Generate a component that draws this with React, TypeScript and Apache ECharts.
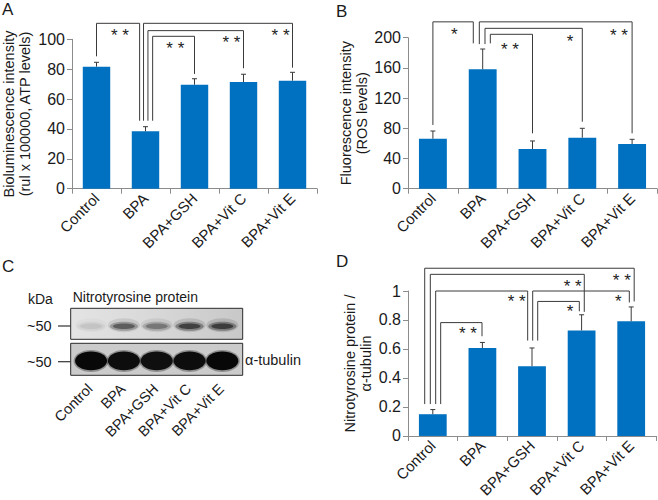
import React, { useEffect, useRef } from 'react';
import * as echarts from 'echarts';

const FONT = "'Liberation Sans', Arial, Helvetica, sans-serif";

const categories = ['Control', 'BPA', 'BPA+GSH', 'BPA+Vit C', 'BPA+Vit E'];

// Panel A: ATP levels
const atpMean = [81.7, 38.4, 69.6, 71.4, 72.3];
const atpErr = [2.9, 3.1, 4.0, 5.2, 5.6];
// Panel B: ROS levels
const rosMean = [66.2, 158.1, 52.6, 67.5, 59.2];
const rosErr = [10.2, 26.9, 10.6, 12.5, 6.2];
// Panel D: Nitrotyrosine / tubulin
const nitroMean = [0.15, 0.607, 0.481, 0.728, 0.791];
const nitroErr = [0.032, 0.038, 0.126, 0.108, 0.099];

// Panel C: band intensities (relative)
const nitroBand = [0.12, 0.7, 0.5, 0.9, 0.93];
const tubulinBand = [1, 0.97, 0.95, 0.97, 1];

// significance brackets: [from category pos, to category pos, top, from end, to end]
const atpBrackets = [
  [0, 0.88, 110.7, 88.6, 45.5],
  [0.96, 4, 110.7, 45.5, 81],
  [1.05, 3, 105.8, 45.5, 80.6],
  [1.146, 2, 102, 45.5, 76.8],
];
const atpStarPos = [[0.478, 105.1], [1.608, 96.7], [2.753, 100.7], [3.757, 105.1]];
const atpStarText = ['* *', '* *', '* *', '* *'];

const rosBrackets = [
  [0, 0.811, 221, 84.4, 192.5],
  [0.932, 4, 221, 191.5, 73.4],
  [1.046, 3, 212.4, 191.5, 88.7],
  [1.153, 2, 204.5, 192.5, 73.4],
];
const rosStarPos = [[0.43, 208.9], [1.548, 190.3], [2.753, 200], [3.737, 208]];
const rosStarText = ['*', '* *', '*', '* *'];

const nitroBrackets = [
  [-0.163, 4.06, 1.157, 0.22, 0.928],
  [-0.05, 3.054, 1.115, 0.22, 0.856],
  [0.058, 1.913, 1.0, 0.22, 0.658],
  [0.159, 0.992, 0.782, 0.22, 0.688],
  [2.014, 3.962, 1.0, 0.658, 0.921],
  [2.115, 2.954, 0.928, 0.658, 0.86],
];
const nitroStarPos = [[0.71, 0.731], [1.69, 0.957], [2.82, 1.056], [3.81, 1.103], [2.766, 0.883], [3.74, 0.957]];
const nitroStarText = ['* *', '* *', '* *', '* *', '*', '*'];

const TXT = '#1a1a1a';
const AX = '#8c8c8c';
const LINE = '#3a3a3a';
const BAR = '#0070C0';

function catAxis(gridIndex: number) {
  return {
    type: 'category',
    gridIndex,
    data: categories,
    axisLine: { lineStyle: { color: AX, width: 1 } },
    axisTick: { show: true, length: 5, lineStyle: { color: AX } },
    axisLabel: { rotate: 45, fontSize: 15, color: TXT, fontFamily: FONT, margin: 7, interval: 0 },
  };
}

function valAxis(gridIndex: number, max: number, interval: number, name: string, nameGap: number) {
  return {
    type: 'value',
    gridIndex,
    min: 0,
    max,
    interval,
    name,
    nameLocation: 'middle',
    nameGap,
    nameTextStyle: { fontSize: 14.5, lineHeight: 16, color: TXT, fontFamily: FONT },
    axisLine: { show: true, lineStyle: { color: AX } },
    axisTick: { show: true, length: 5, lineStyle: { color: AX } },
    splitLine: { show: false },
    axisLabel: { fontSize: 16, color: TXT, fontFamily: FONT, margin: 7 },
  };
}

function barSeries(idx: number, mean: number[]) {
  return {
    type: 'bar',
    xAxisIndex: idx,
    yAxisIndex: idx,
    data: mean,
    barWidth: '56%',
    itemStyle: { color: BAR },
    z: 2,
  };
}

function errorSeries(idx: number, mean: number[], err: number[]) {
  return {
    type: 'custom',
    xAxisIndex: idx,
    yAxisIndex: idx,
    data: mean.map((m, i) => [i, m, err[i]]),
    encode: { x: 0, y: 1 },
    z: 3,
    renderItem: (_p: any, api: any) => {
      const i = api.value(0);
      const m = api.value(1);
      const e = api.value(2);
      const p0 = api.coord([i, m]);
      const p1 = api.coord([i, m + e]);
      const st = { stroke: LINE, lineWidth: 1 };
      return {
        type: 'group',
        children: [
          { type: 'line', shape: { x1: p0[0], y1: p0[1], x2: p1[0], y2: p1[1] }, style: st },
          { type: 'line', shape: { x1: p1[0] - 2.5, y1: p1[1], x2: p1[0] + 2.5, y2: p1[1] }, style: st },
        ],
      };
    },
  };
}

function bracketSeries(idx: number, brackets: number[][]) {
  return {
    type: 'custom',
    xAxisIndex: idx,
    yAxisIndex: idx,
    data: brackets.map((b) => [Math.max(0, Math.round(b[0])), ...b]),
    encode: { x: 0, y: 3 },
    z: 4,
    renderItem: (_p: any, api: any) => {
      const band = api.size([1, 0])[0];
      const x0 = api.coord([0, 0])[0];
      const X = (p: number) => x0 + p * band;
      const Y = (v: number) => api.coord([0, v])[1];
      const a = api.value(1);
      const b = api.value(2);
      const top = api.value(3);
      const ea = api.value(4);
      const eb = api.value(5);
      return {
        type: 'polyline',
        shape: {
          points: [
            [X(a), Y(ea)],
            [X(a), Y(top)],
            [X(b), Y(top)],
            [X(b), Y(eb)],
          ],
        },
        style: { stroke: LINE, lineWidth: 1, fill: 'none' },
      };
    },
  };
}

function starSeries(idx: number, pos: number[][], texts: string[]) {
  return {
    type: 'custom',
    xAxisIndex: idx,
    yAxisIndex: idx,
    data: pos.map((p) => [Math.max(0, Math.round(p[0])), p[0], p[1]]),
    encode: { x: 0, y: 2 },
    z: 4,
    renderItem: (params: any, api: any) => {
      const band = api.size([1, 0])[0];
      const x0 = api.coord([0, 0])[0];
      const x = x0 + api.value(1) * band;
      const y = api.coord([0, api.value(2)])[1];
      return {
        type: 'text',
        x,
        y: y + 4,
        style: {
          text: texts[params.dataIndex],
          fontSize: 17,
          fontFamily: FONT,
          fill: '#222',
          align: 'center',
          verticalAlign: 'middle',
        },
      };
    },
  };
}

const lanes = [0, 1, 2, 3, 4];

function buildOption() {
  const blotX = (gridIndex: number) => ({ type: 'value', gridIndex, min: -0.62, max: 4.62, show: false });
  const blotY = (gridIndex: number) => ({ type: 'value', gridIndex, min: 0, max: 1, show: false });

  return {
    animation: false,
    backgroundColor: '#ffffff',
    textStyle: { fontFamily: FONT },
    grid: [
      { left: 68, top: 39.3, width: 249, height: 149.4 },
      { left: 408, top: 37.7, width: 249, height: 151 },
      { left: 408, top: 291, width: 248, height: 148.3 },
      {
        left: 70.7,
        top: 308.3,
        width: 172,
        height: 31,
        show: true,
        borderColor: '#2a2a2a',
        borderWidth: 1,
        backgroundColor: {
          type: 'linear',
          x: 0,
          y: 0,
          x2: 1,
          y2: 0,
          colorStops: [
            { offset: 0, color: '#e4e4e4' },
            { offset: 0.45, color: '#d9d9d9' },
            { offset: 1, color: '#c8c8c8' },
          ],
        },
      },
      {
        left: 70.7,
        top: 343.3,
        width: 172,
        height: 32,
        show: true,
        borderColor: '#2a2a2a',
        borderWidth: 1,
        backgroundColor: '#cbcbcb',
      },
    ],
    xAxis: [catAxis(0), catAxis(1), catAxis(2), blotX(3), blotX(4)],
    yAxis: [
      valAxis(0, 100, 20, 'Bioluminescence intensity\n(rul x 100000, ATP levels)', 39),
      valAxis(1, 200, 40, 'Fluorescence intensity\n(ROS levels)', 35),
      valAxis(2, 1, 0.2, 'Nitrotyrosine protein /\nα-tubulin', 34),
      blotY(3),
      blotY(4),
    ],
    series: [
      barSeries(0, atpMean),
      errorSeries(0, atpMean, atpErr),
      bracketSeries(0, atpBrackets),
      starSeries(0, atpStarPos, atpStarText),
      barSeries(1, rosMean),
      errorSeries(1, rosMean, rosErr),
      bracketSeries(1, rosBrackets),
      starSeries(1, rosStarPos, rosStarText),
      barSeries(2, nitroMean),
      errorSeries(2, nitroMean, nitroErr),
      bracketSeries(2, nitroBrackets),
      starSeries(2, nitroStarPos, nitroStarText),
      {
        type: 'custom',
        xAxisIndex: 3,
        yAxisIndex: 3,
        data: lanes.map((l) => [l, nitroBand[l]]),
        encode: { x: 0, y: 1 },
        renderItem: (_p: any, api: any) => {
          const a = api.value(1);
          const c = api.coord([api.value(0), 0.42]);
          return {
            type: 'group',
            children: [
              { type: 'ellipse', shape: { cx: c[0], cy: c[1] - 1, rx: 16, ry: 7 }, style: { fill: `rgba(60,60,60,${a * 0.18})` } },
              { type: 'ellipse', shape: { cx: c[0], cy: c[1], rx: 14, ry: 4.5 }, style: { fill: `rgba(30,30,30,${a * 0.4})` } },
              { type: 'ellipse', shape: { cx: c[0], cy: c[1], rx: 11, ry: 2.8 }, style: { fill: `rgba(10,10,10,${a * 0.6})` } },
            ],
          };
        },
      },
      {
        type: 'custom',
        xAxisIndex: 4,
        yAxisIndex: 4,
        data: lanes.map((l) => [l, tubulinBand[l]]),
        encode: { x: 0, y: 1 },
        renderItem: (_p: any, api: any) => {
          const a = api.value(1);
          const c = api.coord([api.value(0), 0.45]);
          return {
            type: 'group',
            children: [
              { type: 'ellipse', shape: { cx: c[0], cy: c[1], rx: 17.5, ry: 11 }, style: { fill: `rgba(0,0,0,${a * 0.3})` } },
              { type: 'ellipse', shape: { cx: c[0], cy: c[1], rx: 16, ry: 9.3 }, style: { fill: `rgba(8,8,8,${a})` } },
            ],
          };
        },
      },
      {
        type: 'custom',
        xAxisIndex: 4,
        yAxisIndex: 4,
        data: lanes.map((l) => [l, 0]),
        encode: { x: 0, y: 1 },
        renderItem: (params: any, api: any) => {
          const c = api.coord([api.value(0), 0]);
          return {
            type: 'text',
            x: c[0] - 1,
            y: c[1] + 11,
            rotation: Math.PI / 4,
            style: {
              text: categories[params.dataIndex],
              fontSize: 14.5,
              fontFamily: FONT,
              fill: TXT,
              align: 'right',
              verticalAlign: 'middle',
            },
          };
        },
      },
    ],
    graphic: [
      { type: 'text', left: 2, top: 1, style: { text: 'A', fontSize: 17, fontFamily: FONT, fill: TXT } },
      { type: 'text', left: 336, top: 3, style: { text: 'B', fontSize: 17, fontFamily: FONT, fill: TXT } },
      { type: 'text', left: 2, top: 258, style: { text: 'C', fontSize: 17, fontFamily: FONT, fill: TXT } },
      { type: 'text', left: 336, top: 253, style: { text: 'D', fontSize: 17, fontFamily: FONT, fill: TXT } },
      { type: 'text', x: 28, y: 298.5, style: { text: 'kDa', fontSize: 14, fontFamily: FONT, fill: TXT, verticalAlign: 'middle' } },
      { type: 'text', x: 72.7, y: 297, style: { text: 'Nitrotyrosine protein', fontSize: 14, fontFamily: FONT, fill: TXT, verticalAlign: 'middle' } },
      { type: 'text', x: 27, y: 325.5, style: { text: '~50', fontSize: 14.5, fontFamily: FONT, fill: TXT, verticalAlign: 'middle' } },
      { type: 'text', x: 27, y: 361.5, style: { text: '~50', fontSize: 14.5, fontFamily: FONT, fill: TXT, verticalAlign: 'middle' } },
      { type: 'line', shape: { x1: 58, y1: 326, x2: 70.7, y2: 326 }, style: { stroke: '#333', lineWidth: 1.2 } },
      { type: 'line', shape: { x1: 58, y1: 361.7, x2: 70.7, y2: 361.7 }, style: { stroke: '#333', lineWidth: 1.2 } },
      { type: 'text', x: 245, y: 360, style: { text: 'α-tubulin', fontSize: 14.5, fontFamily: FONT, fill: TXT, verticalAlign: 'middle' } },
    ],
  };
}

export default function App() {
  const ref = useRef<HTMLDivElement>(null);
  useEffect(() => {
    if (!ref.current) return;
    const chart = echarts.init(ref.current, null, { renderer: 'svg' });
    chart.setOption(buildOption() as any);
    return () => {
      chart.dispose();
    };
  }, []);
  return (
    <div
      ref={ref}
      style={{ position: 'absolute', left: 0, top: 0, width: 658, height: 500, background: '#fff' }}
    />
  );
}
